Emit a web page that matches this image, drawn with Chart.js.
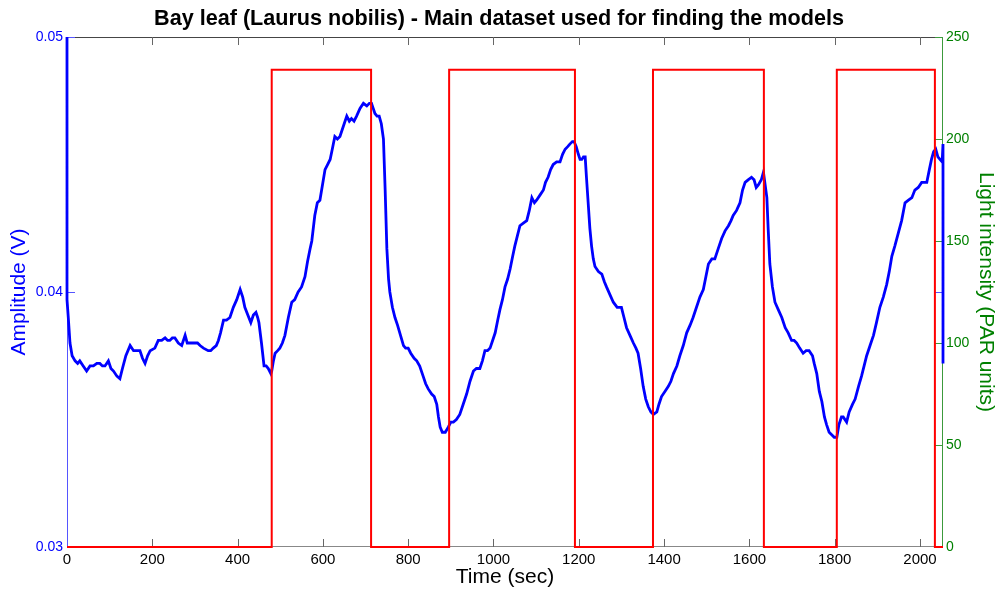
<!DOCTYPE html>
<html>
<head>
<meta charset="utf-8">
<script src="https://cdn.jsdelivr.net/npm/chart.js@4/dist/chart.umd.min.js"></script>
<style>
  body { margin: 0; background: #fff; }
  #wrap { width: 998px; height: 592px; }
</style>
</head>
<body>
<div id="wrap"><canvas id="leafChart" width="998" height="592"></canvas></div>
<script>
// Amplitude (V) of the leaf signal
var timeSec = [0,0,3,7,12,19,25,30,38,46,54,62,70,77,83,89,97,103,109,117,124,130,138,148,156,163,171,177,183,189,195,206,214,222,230,236,241,247,253,261,269,277,282,288,300,306,312,320,331,337,343,350,355,360,367,374,382,390,398,406,412,417,424,431,437,443,447,450,456,462,467,472,478,480,484,488,494,499,505,511,519,527,534,542,550,558,564,570,574,581,587,593,599,605,611,617,622,628,634,640,648,656,662,667,673,679,687,695,703,709,714,718,722,727,732,737,742,746,750,754,757,763,769,775,782,789,794,800,806,814,820,827,835,841,847,855,861,867,871,875,880,887,894,900,906,913,921,929,937,945,953,960,968,974,980,986,992,998,1004,1010,1015,1021,1027,1033,1039,1045,1050,1056,1062,1070,1078,1084,1090,1096,1101,1109,1117,1122,1128,1134,1140,1148,1156,1162,1168,1174,1179,1185,1189,1194,1199,1203,1207,1211,1215,1218,1222,1226,1230,1234,1238,1246,1254,1260,1265,1273,1281,1290,1300,1306,1312,1320,1328,1334,1339,1345,1351,1357,1363,1369,1375,1383,1388,1394,1402,1410,1416,1422,1430,1437,1445,1453,1461,1468,1476,1484,1492,1498,1504,1512,1519,1527,1535,1543,1551,1557,1562,1570,1578,1584,1590,1597,1605,1611,1616,1621,1628,1633,1637,1641,1644,1648,1654,1660,1668,1676,1684,1691,1699,1705,1711,1718,1726,1733,1740,1748,1752,1758,1764,1770,1776,1781,1787,1793,1799,1805,1810,1816,1820,1828,1834,1842,1848,1856,1863,1869,1875,1883,1891,1898,1906,1914,1922,1928,1934,1941,1949,1957,1965,1973,1981,1988,1996,2004,2010,2016,2022,2027,2032,2037,2042,2047,2052,2054,2054];
var amplitude = [0.0500,0.0397,0.0390,0.0380,0.0375,0.0373,0.0372,0.0373,0.0371,0.0369,0.0371,0.0371,0.0372,0.0372,0.0371,0.0371,0.0373,0.0370,0.0369,0.0367,0.0366,0.0370,0.0375,0.0379,0.0377,0.0377,0.0377,0.0374,0.0372,0.0375,0.0377,0.0378,0.0381,0.0381,0.0382,0.0381,0.0381,0.0382,0.0382,0.0380,0.0379,0.0383,0.0380,0.0380,0.0380,0.0380,0.0379,0.0378,0.0377,0.0377,0.0378,0.0379,0.0381,0.0384,0.0389,0.0389,0.0390,0.0394,0.0397,0.0401,0.0398,0.0394,0.0391,0.0388,0.0391,0.0392,0.0390,0.0388,0.0380,0.0371,0.0371,0.0370,0.0368,0.0369,0.0373,0.0376,0.0377,0.0378,0.0380,0.0383,0.0390,0.0396,0.0397,0.0400,0.0402,0.0406,0.0412,0.0417,0.0420,0.0430,0.0435,0.0436,0.0442,0.0448,0.0450,0.0452,0.0456,0.0461,0.0460,0.0461,0.0465,0.0469,0.0467,0.0468,0.0467,0.0469,0.0472,0.0474,0.0473,0.0474,0.0474,0.0472,0.0470,0.0469,0.0469,0.0466,0.0460,0.0440,0.0417,0.0405,0.0400,0.0394,0.0390,0.0387,0.0383,0.0379,0.0378,0.0378,0.0376,0.0374,0.0373,0.0371,0.0367,0.0364,0.0362,0.0360,0.0359,0.0356,0.0351,0.0347,0.0345,0.0345,0.0347,0.0349,0.0349,0.0350,0.0352,0.0356,0.0360,0.0365,0.0369,0.0370,0.0370,0.0373,0.0377,0.0377,0.0378,0.0381,0.0384,0.0389,0.0393,0.0397,0.0402,0.0405,0.0409,0.0414,0.0418,0.0422,0.0426,0.0427,0.0428,0.0432,0.0437,0.0435,0.0436,0.0438,0.0440,0.0443,0.0445,0.0448,0.0450,0.0451,0.0451,0.0454,0.0456,0.0457,0.0458,0.0459,0.0459,0.0457,0.0454,0.0452,0.0452,0.0453,0.0453,0.0445,0.0435,0.0425,0.0418,0.0413,0.0410,0.0408,0.0407,0.0404,0.0402,0.0399,0.0396,0.0394,0.0394,0.0390,0.0386,0.0383,0.0380,0.0378,0.0376,0.0370,0.0363,0.0358,0.0355,0.0353,0.0352,0.0353,0.0356,0.0359,0.0361,0.0363,0.0365,0.0368,0.0371,0.0375,0.0379,0.0384,0.0387,0.0390,0.0394,0.0398,0.0401,0.0406,0.0411,0.0413,0.0413,0.0417,0.0421,0.0424,0.0426,0.0428,0.0430,0.0432,0.0435,0.0440,0.0443,0.0444,0.0445,0.0444,0.0441,0.0442,0.0444,0.0447,0.0442,0.0437,0.0425,0.0411,0.0402,0.0396,0.0393,0.0390,0.0386,0.0384,0.0381,0.0381,0.0380,0.0378,0.0376,0.0377,0.0377,0.0375,0.0372,0.0368,0.0361,0.0357,0.0351,0.0348,0.0345,0.0344,0.0343,0.0343,0.0348,0.0351,0.0351,0.0349,0.0353,0.0356,0.0358,0.0363,0.0367,0.0371,0.0375,0.0379,0.0383,0.0388,0.0394,0.0398,0.0403,0.0408,0.0414,0.0418,0.0423,0.0428,0.0435,0.0436,0.0437,0.0440,0.0441,0.0443,0.0443,0.0443,0.0448,0.0452,0.0455,0.0456,0.0453,0.0452,0.0451,0.0458,0.0372];

// light on/off steps (PAR units)
var lightTime = [0,480,480,713,713,896,896,1191,1191,1374,1374,1634,1634,1805,1805,2035,2035,2054];
var lightLevel = [0,0,234,234,0,0,234,234,0,0,234,234,0,0,234,234,0,0];

var xTicks = [0,200,400,600,800,1000,1200,1400,1600,1800,2000];
var ampTicks = [0.03,0.04,0.05];
var parTicks = [0,50,100,150,200,250];

var FONT = "Arial, 'Liberation Sans', sans-serif";
var BLUE = '#0000ff', GREEN = '#008000';

function pairs(xs, ys){
  var out = [];
  for (var i = 0; i < xs.length; i++) out.push({x: xs[i], y: ys[i]});
  return out;
}

function keepTicks(list){
  return function(scale){
    scale.ticks = list.map(function(v){ return {value: v}; });
  };
}

// MATLAB-like box with inward ticks, drawn under the data
var framePlugin = {
  id: 'frame',
  beforeDatasetsDraw: function(chart){
    var ctx = chart.ctx, a = chart.chartArea;
    var sx = chart.scales.x, sy = chart.scales.y, sy2 = chart.scales.y2;
    var L = 8;
    ctx.save();
    ctx.lineWidth = 1;
    ctx.strokeStyle = '#444';
    ctx.beginPath(); ctx.moveTo(a.left, a.top + 0.5); ctx.lineTo(a.right, a.top + 0.5); ctx.stroke();
    ctx.strokeStyle = '#888';
    ctx.beginPath(); ctx.moveTo(a.left, a.bottom - 0.5); ctx.lineTo(a.right, a.bottom - 0.5); ctx.stroke();
    xTicks.forEach(function(v){
      var px = Math.round(sx.getPixelForValue(v)) + 0.5;
      ctx.strokeStyle = '#666';
      ctx.beginPath(); ctx.moveTo(px, a.bottom); ctx.lineTo(px, a.bottom - L); ctx.stroke();
      ctx.beginPath(); ctx.moveTo(px, a.top); ctx.lineTo(px, a.top + L); ctx.stroke();
    });
    ctx.strokeStyle = '#5555ff';
    ctx.beginPath(); ctx.moveTo(a.left + 0.5, a.top); ctx.lineTo(a.left + 0.5, a.bottom); ctx.stroke();
    ampTicks.forEach(function(v){
      var py = Math.round(sy.getPixelForValue(v)) + 0.5;
      ctx.beginPath(); ctx.moveTo(a.left, py); ctx.lineTo(a.left + L, py); ctx.stroke();
      ctx.beginPath(); ctx.moveTo(a.right, py); ctx.lineTo(a.right - L, py); ctx.stroke();
    });
    ctx.strokeStyle = '#3c9a3c';
    ctx.beginPath(); ctx.moveTo(a.right - 0.5, a.top); ctx.lineTo(a.right - 0.5, a.bottom); ctx.stroke();
    parTicks.forEach(function(v){
      var py = Math.round(sy2.getPixelForValue(v)) + 0.5;
      ctx.beginPath(); ctx.moveTo(a.right, py); ctx.lineTo(a.right - L, py); ctx.stroke();
    });
    ctx.restore();
  }
};

var chart = new Chart(document.getElementById('leafChart'), {
  type: 'scatter',
  data: {
    datasets: [{
      label: 'Light',
      data: pairs(lightTime, lightLevel),
      yAxisID: 'y2',
      showLine: true,
      borderColor: '#ff0000',
      borderWidth: 2,
      pointRadius: 0,
      tension: 0,
      order: 0,
      clip: 3
    }, {
      label: 'Amplitude',
      data: pairs(timeSec, amplitude),
      yAxisID: 'y',
      showLine: true,
      borderColor: BLUE,
      borderWidth: 2.8,
      pointRadius: 0,
      tension: 0,
      order: 1,
      clip: 3
    }]
  },
  options: {
    responsive: false,
    animation: false,
    layout: { padding: 0 },
    plugins: {
      legend: { display: false },
      tooltip: { enabled: false },
      title: {
        display: true,
        text: 'Bay leaf (Laurus nobilis) - Main dataset used for finding the models',
        color: '#000',
        font: { family: FONT, size: 21.6, weight: 'bold', lineHeight: 1.2 },
        padding: { top: 6, bottom: 5.1 }
      }
    },
    scales: {
      x: {
        type: 'linear',
        min: 0, max: 2054,
        afterBuildTicks: keepTicks(xTicks),
        afterFit: function(s){ s.height = 45; },
        grid: { display: false, drawTicks: false },
        border: { display: false },
        ticks: { color: '#000', padding: 4, maxRotation: 0, font: { family: FONT, size: 15 },
          callback: function(v){ return String(v); } },
        title: { display: true, text: 'Time (sec)', color: '#000', padding: { top: 0, bottom: 2 }, font: { family: FONT, size: 21, lineHeight: 1.2 } }
      },
      y: {
        position: 'left',
        min: 0.03, max: 0.05,
        afterBuildTicks: keepTicks(ampTicks),
        afterFit: function(s){ s.width = 67; },
        grid: { display: false, drawTicks: false },
        border: { display: false },
        ticks: { color: BLUE, padding: 4, font: { family: FONT, size: 14 },
          callback: function(v){ return Number(v).toFixed(2); } },
        title: { display: true, text: 'Amplitude (V)', color: BLUE, padding: { top: 7, bottom: 0 }, font: { family: FONT, size: 21, lineHeight: 1.2 } }
      },
      y2: {
        position: 'right',
        min: 0, max: 250,
        afterBuildTicks: keepTicks(parTicks),
        afterFit: function(s){ s.width = 55; },
        grid: { display: false, drawTicks: false },
        border: { display: false },
        ticks: { color: GREEN, padding: 3, font: { family: FONT, size: 14 } },
        title: { display: true, text: 'Light intensity (PAR units)', color: GREEN, padding: { top: 0, bottom: 0 }, font: { family: FONT, size: 21, lineHeight: 1.2 } }
      }
    }
  },
  plugins: [framePlugin]
});
</script>
</body>
</html>
